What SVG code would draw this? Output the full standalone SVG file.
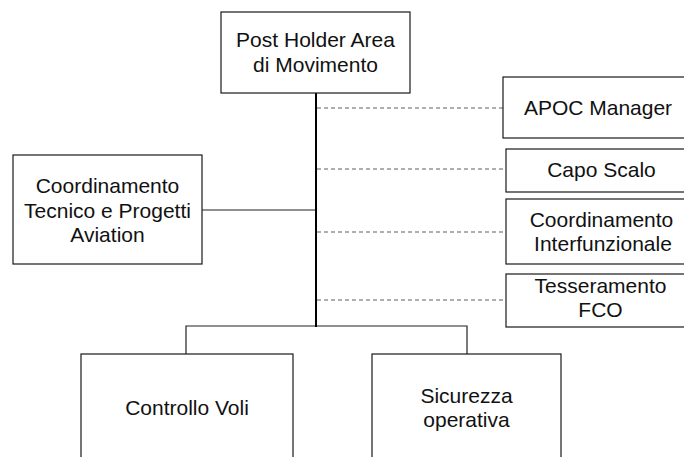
<svg xmlns="http://www.w3.org/2000/svg" width="684" height="457" viewBox="0 0 684 457">
<style>
.box{fill:#fff;stroke:#1a1a1a;stroke-width:1.2}
.t{font-family:"Liberation Sans",Arial,sans-serif;font-size:21px;fill:#111;text-anchor:middle}
.solid{stroke:#222;stroke-width:1.2;fill:none}
.main{stroke:#000;stroke-width:2;fill:none}
.dash{stroke:#5e5e5e;stroke-width:1.2;stroke-dasharray:4 3;fill:none}
</style>
<rect width="684" height="457" fill="#fff"/>
<g id="connectors">
<line class="dash" x1="317" y1="108" x2="503" y2="108"/>
<line class="dash" x1="317" y1="169" x2="506" y2="169"/>
<line class="dash" x1="317" y1="232" x2="506" y2="232"/>
<line class="dash" x1="317" y1="300" x2="506" y2="300"/>
<line class="solid" x1="202" y1="210" x2="316" y2="210"/>
<polyline class="solid" points="186,354 186,326 467,326 467,354"/>
<line class="main" x1="316" y1="93" x2="316" y2="327"/>
</g>
<g id="post-holder">
<rect class="box" x="221" y="12" width="189" height="81"/>
<text class="t" x="315.5" y="47">Post Holder Area</text>
<text class="t" x="315.5" y="72">di Movimento</text>
</g>
<g id="apoc-manager">
<rect class="box" x="503" y="77" width="200" height="61"/>
<text class="t" x="598" y="115">APOC Manager</text>
</g>
<g id="capo-scalo">
<rect class="box" x="506" y="149" width="200" height="43"/>
<text class="t" x="601.5" y="177">Capo Scalo</text>
</g>
<g id="coordinamento-interfunzionale">
<rect class="box" x="506" y="199" width="200" height="65"/>
<text class="t" x="601.5" y="227">Coordinamento</text>
<text class="t" x="603" y="251">Interfunzionale</text>
</g>
<g id="tesseramento-fco">
<rect class="box" x="506" y="274" width="200" height="53"/>
<text class="t" x="600.5" y="293">Tesseramento</text>
<text class="t" x="600.5" y="317">FCO</text>
</g>
<g id="coordinamento-tecnico">
<rect class="box" x="13" y="155" width="189" height="109"/>
<text class="t" x="107.5" y="193">Coordinamento</text>
<text class="t" x="107.5" y="218">Tecnico e Progetti</text>
<text class="t" x="107.5" y="242">Aviation</text>
</g>
<g id="controllo-voli">
<rect class="box" x="81" y="354" width="212" height="120"/>
<text class="t" x="187" y="415">Controllo Voli</text>
</g>
<g id="sicurezza-operativa">
<rect class="box" x="372" y="354" width="189" height="120"/>
<text class="t" x="466.5" y="403">Sicurezza</text>
<text class="t" x="466.5" y="427">operativa</text>
</g>
</svg>
